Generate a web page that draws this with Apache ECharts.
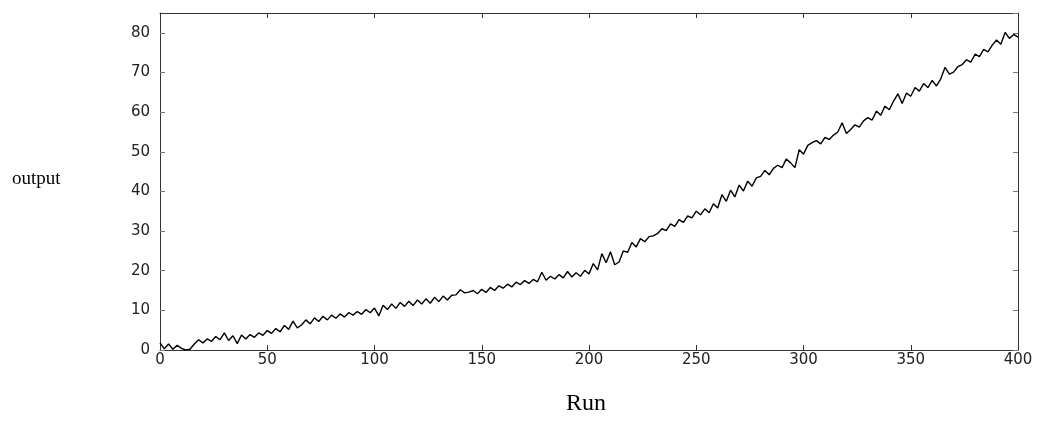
<!DOCTYPE html>
<html>
<head>
<meta charset="utf-8">
<script src="https://cdn.jsdelivr.net/npm/echarts@6/dist/echarts.min.js"></script>
<style>
  html, body { margin: 0; padding: 0; background: #fff; }
  #main { width: 1044px; height: 432px; }
</style>
</head>
<body>
<div id="main"></div>
<script>
// runs 0, 2, 4, ... 400
var runStep = 2;
var outputValues = [
  1.8, 0.3, 1.5, 0.2, 1.2, 0.4, 0, 0.2, 1.5, 2.6, 1.8,
  2.8, 2.2, 3.4, 2.6, 4.3, 2.4, 3.6, 1.6, 3.8, 2.8,
  3.9, 3.2, 4.3, 3.7, 4.9, 4.2, 5.4, 4.6, 6.2, 5.2,
  7.3, 5.6, 6.3, 7.6, 6.6, 8.1, 7.2, 8.5, 7.6, 8.8,
  8.0, 9.1, 8.3, 9.4, 8.8, 9.7, 9.0, 10.2, 9.4, 10.6,
  8.6, 11.3, 10.2, 11.6, 10.5, 12.0, 11.0, 12.3, 11.2, 12.6,
  11.6, 12.9, 11.8, 13.3, 12.2, 13.6, 12.6, 13.8, 13.9, 15.2,
  14.4, 14.6, 15.0, 14.2, 15.3, 14.5, 15.8, 15.0, 16.2, 15.6,
  16.6, 15.9, 17.1, 16.5, 17.5, 16.8, 17.8, 17.2, 19.6, 17.6,
  18.6, 17.9, 19.0, 18.2, 19.8, 18.4, 19.5, 18.6, 20.1, 19.2,
  21.8, 20.2, 24.3, 22.0, 24.8, 21.5, 22.2, 25.0, 24.6, 27.1,
  26.0, 28.1, 27.3, 28.6, 28.8, 29.4, 30.6, 30.1, 31.8, 31.2,
  32.9, 32.2, 33.8, 33.3, 35.0, 34.1, 35.6, 34.6, 36.9, 35.8,
  39.2, 37.5, 40.3, 38.6, 41.6, 40.1, 42.6, 41.3, 43.4, 43.8,
  45.3, 44.2, 45.8, 46.6, 46.0, 48.2, 47.2, 46.0, 50.5, 49.4,
  51.6, 52.3, 52.8, 52.0, 53.6, 53.1, 54.2, 55.0, 57.3, 54.6,
  55.6, 56.8, 56.2, 57.8, 58.6, 58.0, 60.3, 59.2, 61.5, 60.6,
  62.8, 64.6, 62.2, 64.8, 64.0, 66.2, 65.3, 67.2, 66.2, 68.0,
  66.6, 68.4, 71.3, 69.6, 70.1, 71.5, 72.0, 73.2, 72.6, 74.6,
  74.0, 75.8, 75.2, 76.9, 78.2, 77.1, 80.1, 78.6, 79.6, 78.9
];
var xTicks = [0, 50, 100, 150, 200, 250, 300, 350, 400];
var yTicks = [0, 10, 20, 30, 40, 50, 60, 70, 80];

var points = outputValues.map(function (v, i) { return [i * runStep, v]; });

var chart = echarts.init(document.getElementById('main'));

var tickFont = { color: '#222', fontFamily: 'DejaVu Sans', fontSize: 15 };
var lineCol = '#333';

function xAx(pos, labels) {
  return {
    type: 'value', min: xTicks[0], max: xTicks[xTicks.length - 1], interval: 50,
    position: pos,
    axisLine: { show: true, onZero: false, lineStyle: { color: lineCol, width: 1 } },
    axisTick: { show: true, inside: true, length: 5, lineStyle: { color: lineCol } },
    axisLabel: labels ? Object.assign({ margin: 3 }, tickFont) : { show: false },
    splitLine: { show: false }
  };
}
function yAx(pos, labels) {
  return {
    type: 'value', min: 0, max: 85, interval: 10,
    position: pos,
    axisLine: { show: true, onZero: false, lineStyle: { color: lineCol, width: 1 } },
    axisTick: { show: true, inside: true, length: 5, lineStyle: { color: '#777' } },
    axisLabel: labels ? Object.assign({ margin: 10, showMaxLabel: false }, tickFont) : { show: false },
    splitLine: { show: false }
  };
}

var option = {
  backgroundColor: '#fff',
  animation: false,
  grid: { left: 160, right: 26, top: 13, bottom: 82 },
  xAxis: [xAx('bottom', true), xAx('top', false)],
  yAxis: [yAx('left', true), yAx('right', false)],
  graphic: [
    {
      type: 'text', left: 12, top: 170,
      style: { text: 'output', fill: '#000', font: '19px "Liberation Serif"' }
    },
    {
      type: 'text', left: 566, top: 392,
      style: { text: 'Run', fill: '#000', font: '24px "Liberation Serif"' }
    }
  ],
  series: [
    {
      type: 'line',
      data: points,
      showSymbol: false,
      lineStyle: { color: '#000', width: 1.4 }
    },
    {
      // same data on the mirrored top/right axes, invisible, so those axes get drawn
      type: 'line',
      xAxisIndex: 1,
      yAxisIndex: 1,
      data: points,
      showSymbol: false,
      silent: true,
      lineStyle: { opacity: 0 }
    }
  ]
};

chart.setOption(option);
</script>
</body>
</html>
